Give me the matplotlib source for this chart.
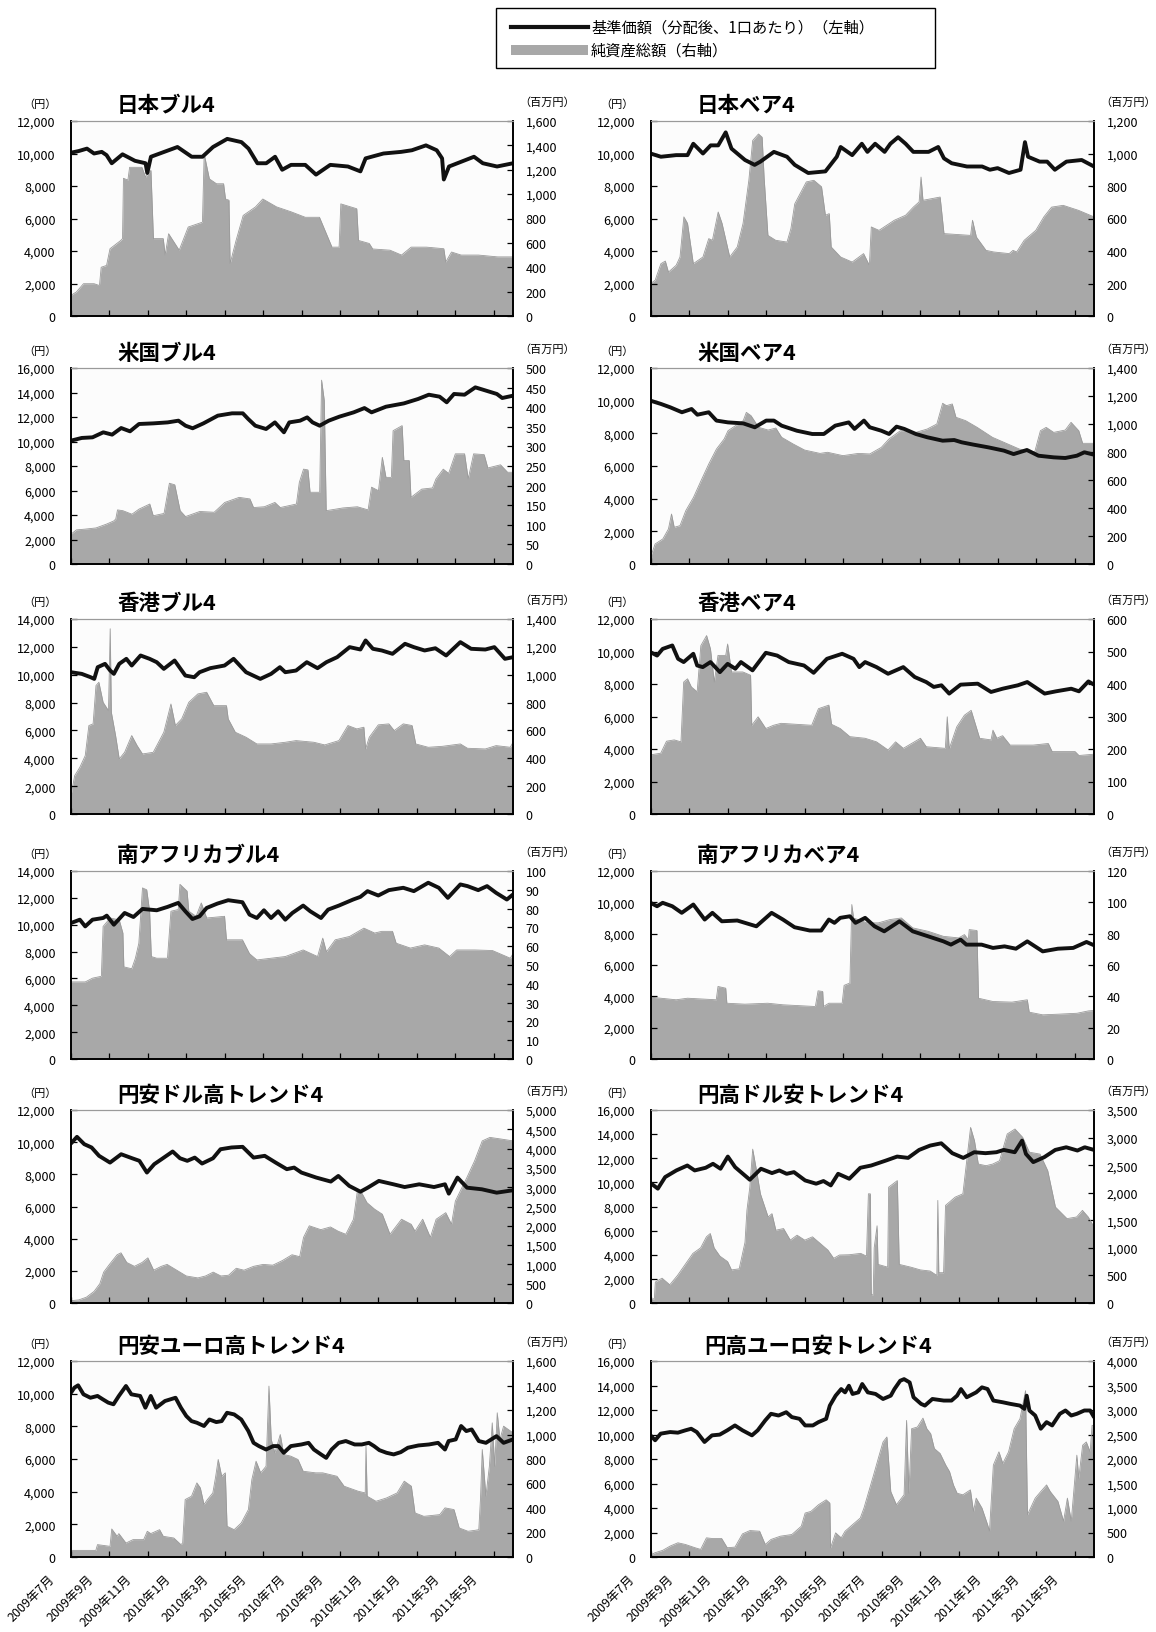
import matplotlib
matplotlib.use("Agg")
import matplotlib.pyplot as plt
from matplotlib.lines import Line2D
from matplotlib.patches import Rectangle
from matplotlib.ticker import FuncFormatter
from matplotlib.transforms import ScaledTranslation

plt.rcParams['font.family'] = ['Noto Sans CJK JP', 'DejaVu Sans']

# time axis: months since 2009-07-01
X_END = 23.0
month_ticks = [0, 2, 4, 6, 8, 10, 12, 14, 16, 18, 20, 22]
month_labels = ["2009年7月", "2009年9月", "2009年11月", "2010年1月", "2010年3月", "2010年5月",
                "2010年7月", "2010年9月", "2010年11月", "2011年1月", "2011年3月", "2011年5月"]

# ---- 日本ブル4
jpb_nav_t = [0, 0.4, 0.83, 1.2, 1.6, 1.85, 2.12, 2.68, 3.33, 3.88, 3.97, 4.16, 4.62, 5.54, 6.28, 6.84, 7.39, 8.13, 8.87, 9.24, 9.7, 10.16, 10.62, 10.99, 11.45, 12.19, 12.75, 13.49, 14.41, 15.06, 15.33, 16.26, 17.18, 17.74, 18.47, 19.03, 19.31, 19.4, 19.67, 20.32, 20.97, 21.43, 22.17, 23]
jpb_nav = [10050, 10150, 10300, 10000, 10100, 9900, 9400, 9950, 9550, 9400, 8800, 9800, 10000, 10400, 9800, 9800, 10400, 10900, 10700, 10300, 9400, 9400, 9800, 9000, 9300, 9300, 8700, 9300, 9200, 8900, 9700, 10000, 10100, 10200, 10500, 10200, 9700, 8400, 9200, 9500, 9800, 9400, 9200, 9400]
jpb_aum_t = [0, 0.28, 0.65, 1.2, 1.48, 1.57, 1.85, 2.03, 2.59, 2.68, 2.73, 2.96, 3.05, 3.69, 3.88, 4.16, 4.29, 4.8, 4.9, 5.08, 5.63, 6.1, 6.84, 6.93, 7.2, 7.57, 7.94, 8.04, 8.22, 8.28, 8.59, 8.96, 9.6, 9.98, 10.7, 11.45, 12.19, 12.93, 13.58, 13.95, 14.04, 14.87, 14.96, 15.52, 15.7, 16.6, 17.2, 17.7, 18.5, 19.4, 19.5, 19.8, 20.3, 21.2, 22.2, 23]
jpb_aum = [170, 197, 265, 265, 250, 400, 415, 552, 620, 635, 1130, 1115, 1220, 1220, 1140, 1195, 635, 635, 500, 675, 540, 730, 770, 1330, 1125, 1085, 1085, 960, 950, 430, 620, 825, 895, 960, 895, 855, 810, 810, 565, 565, 920, 880, 620, 595, 550, 540, 500, 565, 565, 552, 443, 525, 500, 500, 485, 485]

# ---- 日本ベア4
jpr_nav_t = [0, 0.54, 1.33, 1.92, 2.22, 2.72, 3.12, 3.51, 3.9, 4.2, 4.9, 5.4, 5.7, 6.4, 7.08, 7.48, 8.18, 9.07, 9.66, 9.86, 10.46, 10.96, 11.25, 11.65, 12.14, 12.44, 12.84, 13.23, 13.63, 14.42, 14.92, 15.22, 15.62, 16.41, 17.2, 17.6, 18.0, 18.59, 19.19, 19.42, 19.58, 20.18, 20.57, 20.97, 21.57, 22.36, 23]
jpr_nav = [10000, 9800, 9900, 9900, 10600, 10000, 10500, 10500, 11300, 10300, 9600, 9300, 9500, 10100, 9800, 9300, 8800, 8900, 9800, 10400, 9900, 10600, 10100, 10600, 10100, 10600, 11000, 10600, 10100, 10100, 10400, 9700, 9400, 9200, 9200, 9000, 9100, 8800, 9000, 10700, 9800, 9500, 9500, 9000, 9500, 9600, 9200]
jpr_aum_t = [0, 0.24, 0.54, 0.77, 0.93, 1.33, 1.53, 1.73, 1.92, 2.22, 2.72, 3.02, 3.21, 3.51, 3.71, 4.11, 4.5, 4.8, 5.1, 5.3, 5.6, 5.79, 5.89, 6.09, 6.49, 7.08, 7.28, 7.48, 8.08, 8.47, 8.87, 9.07, 9.27, 9.37, 9.86, 10.46, 11.05, 11.35, 11.45, 11.85, 12.64, 13.23, 13.63, 13.93, 14.03, 14.13, 15.02, 15.22, 16.6, 16.7, 16.9, 17.4, 17.8, 18.6, 18.8, 18.99, 19.38, 19.98, 20.4, 20.8, 21.4, 22.2, 23]
jpr_aum = [199, 220, 322, 338, 270, 312, 363, 610, 570, 322, 363, 476, 466, 640, 570, 363, 425, 570, 835, 1080, 1120, 1100, 855, 496, 466, 455, 537, 690, 825, 835, 795, 620, 630, 425, 363, 332, 384, 312, 548, 527, 589, 620, 670, 702, 855, 712, 732, 507, 496, 589, 486, 404, 394, 384, 404, 394, 466, 527, 610, 670, 681, 650, 610]

# ---- 米国ブル4
usb_nav_t = [0, 0.56, 1.12, 1.68, 2.14, 2.61, 3.07, 3.54, 4.28, 5.03, 5.59, 5.96, 6.33, 6.89, 7.64, 8.38, 8.94, 9.22, 9.59, 10.15, 10.61, 11.08, 11.36, 11.92, 12.29, 12.57, 12.94, 13.41, 13.97, 14.71, 15.27, 15.64, 16.39, 17.32, 18.06, 18.62, 19.18, 19.55, 19.93, 20.48, 21.04, 21.6, 22.16, 22.44, 23]
usb_nav = [10070, 10290, 10340, 10750, 10560, 11100, 10830, 11430, 11480, 11560, 11700, 11290, 11080, 11480, 12110, 12300, 12300, 11840, 11290, 11020, 11560, 10750, 11560, 11700, 11970, 11560, 11290, 11700, 12030, 12380, 12730, 12380, 12840, 13110, 13470, 13820, 13660, 13200, 13880, 13820, 14420, 14150, 13880, 13550, 13740]
usb_aum_t = [0, 0.28, 0.74, 1.3, 1.86, 2.23, 2.33, 2.42, 2.7, 3.17, 3.54, 4.1, 4.28, 4.84, 5.12, 5.4, 5.68, 5.96, 6.7, 7.45, 8.0, 8.75, 9.31, 9.5, 10.06, 10.61, 10.89, 11.73, 11.88, 12.1, 12.33, 12.44, 12.94, 13.04, 13.18, 13.28, 14.15, 14.9, 15.46, 15.64, 16.0, 16.2, 16.39, 16.67, 16.76, 17.23, 17.32, 17.6, 17.69, 18.25, 18.81, 18.99, 19.37, 19.65, 20.0, 20.48, 20.67, 20.95, 21.5, 21.69, 22.35, 22.72, 23]
usb_aum = [76, 87, 89, 92, 102, 110, 115, 138, 136, 127, 140, 153, 123, 129, 206, 202, 136, 121, 134, 132, 157, 170, 166, 144, 146, 157, 144, 153, 208, 242, 240, 183, 183, 469, 417, 136, 143, 146, 138, 196, 187, 272, 221, 221, 340, 353, 264, 264, 170, 191, 194, 217, 242, 231, 281, 281, 217, 281, 279, 245, 253, 234, 234]

# ---- 米国ベア4
usr_nav_t = [0, 0.54, 1.03, 1.63, 2.13, 2.43, 3.02, 3.42, 4.02, 4.81, 5.41, 6.0, 6.4, 6.8, 7.59, 8.39, 8.99, 9.58, 10.28, 10.58, 11.07, 11.37, 11.97, 12.37, 12.76, 13.16, 13.76, 14.35, 15.15, 15.75, 16.14, 16.74, 17.53, 18.33, 18.83, 19.52, 20.12, 20.91, 21.51, 22.11, 22.5, 23]
usr_nav = [10000, 9800, 9590, 9290, 9490, 9140, 9290, 8780, 8670, 8610, 8370, 8780, 8780, 8470, 8160, 7960, 7960, 8470, 8670, 8270, 8780, 8370, 8160, 7960, 8410, 8270, 7960, 7760, 7550, 7590, 7450, 7310, 7140, 6940, 6730, 6980, 6630, 6530, 6490, 6630, 6840, 6690]
usr_aum_t = [0, 0.24, 0.64, 0.93, 1.09, 1.23, 1.53, 1.83, 2.23, 2.62, 3.02, 3.42, 3.82, 4.02, 4.41, 4.81, 4.97, 5.21, 5.61, 6.1, 6.5, 6.8, 7.4, 7.99, 8.79, 9.18, 9.98, 10.78, 11.37, 11.97, 12.37, 12.96, 13.76, 14.35, 14.85, 15.15, 15.35, 15.65, 15.84, 16.34, 16.94, 17.73, 18.53, 19.13, 19.92, 20.22, 20.52, 20.91, 21.51, 21.81, 22.21, 22.41, 23]
usr_aum = [48, 143, 179, 250, 357, 262, 274, 381, 476, 595, 714, 821, 893, 952, 988, 1024, 1083, 1060, 976, 957, 971, 905, 857, 814, 790, 798, 774, 790, 786, 833, 893, 952, 940, 964, 1000, 1148, 1131, 1143, 1048, 1024, 976, 905, 857, 821, 798, 952, 976, 940, 957, 1012, 952, 862, 862]

# ---- 香港ブル4
hkb_nav_t = [0, 0.56, 1.02, 1.21, 1.39, 1.77, 2.04, 2.23, 2.51, 2.88, 3.16, 3.62, 4.09, 4.46, 4.83, 5.39, 5.95, 6.41, 6.69, 7.25, 7.99, 8.46, 9.11, 9.85, 10.41, 10.87, 11.15, 11.71, 12.27, 12.83, 13.29, 13.85, 14.5, 15.06, 15.33, 15.71, 16.17, 16.73, 17.38, 17.84, 18.4, 18.96, 19.52, 20.26, 20.82, 21.56, 22.03, 22.58, 23]
hkb_nav = [10180, 10060, 9820, 9700, 10540, 10780, 10300, 10060, 10780, 11140, 10660, 11380, 11140, 10900, 10420, 11020, 9940, 9820, 10180, 10470, 10660, 11140, 10180, 9700, 10060, 10540, 10180, 10300, 10900, 10470, 10900, 11260, 11980, 11810, 12460, 11860, 11740, 11500, 12220, 11980, 11740, 11900, 11380, 12340, 11860, 11810, 11980, 11140, 11260]
hkb_aum_t = [0, 0.19, 0.46, 0.74, 0.93, 1.15, 1.3, 1.45, 1.67, 1.95, 2.04, 2.1, 2.32, 2.51, 2.79, 3.16, 3.44, 3.72, 4.28, 4.83, 5.2, 5.43, 5.76, 6.13, 6.6, 7.06, 7.43, 8.09, 8.18, 8.55, 9.11, 9.67, 10.41, 11.15, 11.71, 12.64, 13.2, 13.94, 14.41, 14.87, 15.24, 15.33, 15.52, 15.99, 16.54, 16.82, 17.29, 17.75, 17.94, 18.59, 19.33, 20.26, 20.63, 21.56, 22.12, 22.86, 23]
hkb_aum = [132, 275, 335, 419, 635, 647, 922, 946, 802, 742, 1330, 730, 563, 395, 443, 563, 491, 431, 443, 587, 790, 635, 683, 802, 862, 874, 778, 778, 683, 587, 551, 503, 503, 515, 527, 515, 496, 527, 635, 611, 623, 467, 551, 640, 647, 599, 647, 635, 503, 479, 486, 503, 472, 467, 491, 479, 515]

# ---- 香港ベア4
hkr_nav_t = [0, 0.34, 0.63, 1.13, 1.43, 1.72, 2.22, 2.42, 2.71, 3.11, 3.6, 4.0, 4.4, 4.69, 5.29, 5.98, 6.57, 7.17, 7.96, 8.46, 9.15, 9.94, 10.53, 10.83, 11.13, 11.72, 12.32, 13.11, 13.7, 14.3, 14.69, 15.09, 15.49, 16.08, 16.97, 17.66, 18.26, 19.05, 19.54, 20.44, 21.03, 21.82, 22.22, 22.71, 23]
hkr_nav = [9960, 9750, 10160, 10370, 9550, 9350, 9860, 9140, 9040, 9350, 8730, 9240, 8940, 9350, 8840, 9920, 9750, 9350, 9140, 8690, 9550, 9860, 9550, 9040, 9350, 9040, 8630, 9040, 8430, 8120, 7820, 7920, 7410, 7960, 8020, 7510, 7710, 7920, 8120, 7410, 7550, 7710, 7550, 8160, 7960]
hkr_aum_t = [0, 0.53, 0.83, 1.23, 1.58, 1.72, 1.92, 2.12, 2.42, 2.61, 2.91, 3.11, 3.31, 3.5, 3.9, 4.0, 4.2, 4.79, 5.19, 5.25, 5.58, 5.98, 6.38, 6.77, 7.56, 8.36, 8.71, 9.25, 9.39, 9.84, 10.34, 11.13, 11.72, 12.32, 12.71, 13.11, 14.0, 14.3, 15.29, 15.39, 15.49, 15.88, 16.28, 16.63, 17.07, 17.66, 17.76, 17.96, 18.26, 18.65, 19.84, 20.63, 20.83, 22.02, 22.22, 23]
hkr_aum = [182, 187, 224, 228, 222, 406, 416, 391, 376, 518, 549, 508, 406, 488, 488, 523, 437, 437, 427, 273, 299, 263, 273, 279, 276, 273, 324, 335, 276, 263, 238, 233, 222, 197, 222, 202, 233, 207, 202, 299, 200, 268, 304, 319, 233, 228, 258, 233, 241, 212, 212, 217, 192, 192, 180, 184]

# ---- 南アフリカブル4
zab_nav_t = [0, 0.46, 0.74, 1.12, 1.67, 1.86, 2.23, 2.79, 3.25, 3.72, 4.46, 5.02, 5.58, 5.95, 6.32, 6.69, 7.06, 7.62, 8.18, 8.92, 9.29, 9.67, 10.04, 10.41, 10.78, 11.15, 11.52, 12.08, 12.45, 13.01, 13.38, 13.94, 14.68, 15.06, 15.43, 15.99, 16.54, 17.29, 17.84, 18.59, 19.14, 19.61, 20.26, 20.63, 21.19, 21.65, 22.12, 22.68, 23]
zab_nav = [10125, 10375, 9875, 10375, 10500, 10675, 10000, 10875, 10575, 11175, 11075, 11325, 11625, 11000, 10425, 10625, 11250, 11575, 11825, 11675, 10750, 10500, 11075, 10500, 11000, 10375, 10875, 11425, 11000, 10500, 11125, 11425, 11875, 12075, 12500, 12175, 12575, 12750, 12500, 13125, 12750, 12000, 13000, 12875, 12575, 12875, 12375, 11875, 12250]
zab_aum_t = [0, 0.74, 1.12, 1.58, 1.67, 2.04, 2.51, 2.7, 2.75, 3.16, 3.35, 3.53, 3.72, 3.94, 4.09, 4.18, 4.46, 5.02, 5.2, 5.58, 5.67, 6.04, 6.13, 6.51, 6.78, 7.06, 7.99, 8.09, 8.92, 9.29, 9.67, 10.41, 11.15, 12.08, 12.83, 13.1, 13.29, 13.75, 14.5, 15.24, 15.8, 16.17, 16.73, 16.92, 17.66, 18.4, 19.14, 19.7, 20.07, 21.0, 21.93, 22.86, 23]
zab_aum = [41, 41, 43, 44, 70.5, 75, 74, 67, 49, 48, 53.6, 61.6, 91, 90, 78.6, 54.5, 53.6, 53.6, 78.6, 79.5, 92.9, 89.3, 78.6, 75.9, 83, 75, 75.9, 63.4, 63.4, 56, 52.7, 53.6, 54.5, 58, 54.5, 64.3, 57, 63.4, 65.2, 69.6, 67, 67.9, 67.9, 61.6, 59, 60.7, 59, 54.5, 58, 58, 57.7, 53.6, 56]

# ---- 南アフリカベア4
zar_nav_t = [0, 0.34, 0.63, 1.13, 1.62, 2.22, 2.81, 3.21, 3.7, 4.5, 5.49, 6.28, 6.87, 7.47, 8.26, 8.85, 9.25, 9.54, 9.84, 10.34, 10.63, 11.13, 11.62, 12.12, 12.91, 13.6, 14.4, 15.19, 15.58, 16.08, 16.38, 17.17, 17.76, 18.36, 18.95, 19.54, 20.34, 21.13, 21.92, 22.61, 23]
zar_nav = [9970, 9750, 9970, 9750, 9330, 9860, 8900, 9330, 8790, 8840, 8470, 9330, 8900, 8410, 8200, 8200, 8900, 8690, 9010, 9110, 8690, 9010, 8470, 8150, 8790, 8150, 7830, 7510, 7300, 7620, 7300, 7300, 7090, 7190, 7040, 7510, 6870, 7040, 7090, 7470, 7260]
zar_aum_t = [0, 0.53, 1.33, 1.92, 3.41, 3.5, 3.9, 3.96, 4.89, 6.08, 6.87, 8.55, 8.69, 8.93, 8.97, 9.25, 9.94, 10.04, 10.34, 10.44, 10.53, 11.23, 11.82, 12.42, 13.01, 13.6, 14.4, 15.19, 15.98, 16.28, 16.48, 16.53, 16.93, 17.01, 17.76, 18.75, 19.54, 19.64, 20.34, 21.13, 22.12, 22.71, 23]
zar_aum = [39.5, 38.8, 37.8, 38.8, 37.8, 46.3, 45.2, 35.6, 35, 35.6, 34.6, 33.5, 43.5, 43.1, 33.5, 35.6, 35.6, 47, 48.5, 98.6, 90, 86.9, 86.9, 89, 90, 83.7, 81.5, 78.3, 77.3, 79.4, 76.2, 82.6, 82, 38.8, 36.7, 36.3, 37.8, 29.9, 28.2, 28.6, 29.2, 30.7, 31]

# ---- 円安ドル高トレンド4
usdu_nav_t = [0, 0.31, 0.69, 1.07, 1.46, 2.03, 2.61, 3.18, 3.56, 3.95, 4.33, 4.71, 5.29, 5.67, 6.05, 6.44, 6.82, 7.39, 7.78, 8.35, 8.93, 9.5, 10.08, 10.65, 11.23, 11.61, 11.99, 12.76, 13.52, 13.91, 14.48, 15.06, 15.44, 16.02, 16.78, 17.36, 18.12, 18.89, 19.46, 19.66, 20.11, 20.61, 21.38, 22.15, 23]
usdu_nav = [9920, 10330, 9875, 9670, 9150, 8730, 9250, 9000, 8840, 8110, 8630, 8940, 9420, 9000, 8840, 9040, 8670, 9000, 9560, 9670, 9710, 9040, 9150, 8730, 8320, 8420, 8110, 7800, 7550, 7900, 7280, 6920, 7170, 7590, 7380, 7210, 7380, 7210, 7380, 6800, 7800, 7170, 7070, 6860, 7010]
usdu_aum_t = [0, 0.4, 0.8, 1.2, 1.5, 1.7, 2.0, 2.4, 2.6, 2.9, 3.3, 3.7, 4.0, 4.3, 4.7, 5.0, 5.5, 6.0, 6.6, 7.0, 7.4, 7.8, 8.2, 8.6, 9.0, 9.5, 10.0, 10.5, 11.0, 11.5, 11.9, 12.1, 12.4, 13.0, 13.5, 13.9, 14.3, 14.7, 14.9, 15.1, 15.4, 15.8, 16.2, 16.6, 17.2, 17.7, 17.9, 18.3, 18.7, 19.0, 19.5, 19.8, 20.0, 20.6, 21.0, 21.4, 21.8, 22.35, 23]
usdu_aum = [60, 80, 150, 300, 500, 800, 1000, 1250, 1300, 1050, 950, 1050, 1170, 850, 950, 1000, 850, 700, 650, 700, 800, 700, 720, 900, 850, 950, 1000, 980, 1100, 1250, 1200, 1700, 2000, 1900, 1970, 1860, 1780, 2170, 2900, 2880, 2600, 2430, 2300, 1780, 2170, 2040, 1860, 2170, 1700, 2170, 2340, 2040, 2640, 3250, 3680, 4200, 4290, 4250, 4200]

# ---- 円高ドル安トレンド4
usdd_nav_t = [0, 0.38, 0.76, 1.34, 1.91, 2.29, 2.86, 3.24, 3.63, 4.01, 4.39, 5.15, 5.73, 6.3, 6.68, 7.06, 7.44, 8.02, 8.59, 8.97, 9.35, 9.73, 10.31, 10.88, 11.45, 12.21, 12.79, 13.36, 13.93, 14.5, 15.08, 15.65, 16.22, 16.79, 17.37, 17.94, 18.32, 18.89, 19.27, 19.47, 19.85, 20.42, 20.99, 21.56, 22.14, 22.52, 23]
usdd_nav = [9945, 9480, 10440, 10990, 11400, 10990, 11210, 11540, 11130, 12140, 11260, 10220, 11130, 10770, 10990, 10710, 10850, 10160, 9890, 10110, 9750, 10710, 10300, 11210, 11400, 11810, 12140, 12030, 12690, 13050, 13240, 12420, 12030, 12500, 12420, 12500, 12690, 12500, 13460, 12360, 11680, 12090, 12690, 12910, 12640, 12910, 12690]
usdd_aum_t = [0, 0.2, 0.25, 0.6, 1.0, 1.4, 1.7, 2.2, 2.6, 2.9, 3.1, 3.3, 3.6, 4.0, 4.2, 4.6, 4.9, 5.0, 5.15, 5.3, 5.5, 5.7, 6.1, 6.3, 6.5, 6.9, 7.25, 7.6, 8.0, 8.4, 8.8, 9.2, 9.5, 9.8, 10.3, 10.9, 11.2, 11.3, 11.4, 11.45, 11.55, 11.6, 11.75, 11.8, 12.3, 12.35, 12.8, 12.9, 13.5, 14.0, 14.5, 14.85, 14.9, 14.95, 15.2, 15.3, 15.8, 16.2, 16.6, 16.8, 17.0, 17.4, 17.75, 18.1, 18.5, 18.9, 19.3, 19.65, 20.2, 20.6, 21.0, 21.6, 22.1, 22.4, 22.7, 23]
usdd_aum = [60, 80, 380, 450, 330, 500, 650, 900, 1000, 1200, 1260, 1000, 850, 750, 600, 620, 1100, 1680, 2100, 2790, 2400, 1980, 1560, 1620, 1320, 1350, 1140, 1230, 1140, 1200, 1080, 960, 810, 870, 875, 900, 850, 1980, 1980, 150, 150, 1000, 1400, 700, 650, 2100, 2220, 700, 650, 600, 580, 500, 1860, 550, 550, 1770, 1920, 1980, 3185, 2945, 2520, 2490, 2520, 2580, 3065, 3155, 3005, 2735, 2700, 2400, 1740, 1530, 1560, 1680, 1560, 1380]

# ---- 円安ユーロ高トレンド4
euru_nav_t = [0, 0.18, 0.37, 0.65, 1.01, 1.38, 1.66, 1.94, 2.21, 2.49, 2.86, 3.14, 3.6, 3.87, 4.15, 4.43, 4.89, 5.44, 5.72, 6.0, 6.27, 6.55, 6.92, 7.2, 7.56, 7.84, 8.12, 8.49, 8.86, 9.23, 9.5, 9.78, 10.15, 10.52, 10.79, 11.07, 11.44, 11.99, 12.36, 12.64, 13.01, 13.28, 13.56, 13.93, 14.3, 14.76, 15.13, 15.5, 15.77, 16.05, 16.42, 16.79, 17.16, 17.53, 18.08, 18.63, 19.1, 19.46, 19.65, 20.02, 20.3, 20.57, 20.85, 21.22, 21.59, 22.14, 22.51, 23]
euru_nav = [10060, 10370, 10510, 9960, 9750, 9860, 9650, 9450, 9350, 9860, 10470, 9960, 9860, 9140, 9860, 9140, 9550, 9750, 9140, 8630, 8320, 8220, 8020, 8420, 8260, 8320, 8830, 8730, 8420, 7710, 6990, 6790, 6580, 6790, 6790, 6380, 6790, 6890, 6990, 6580, 6280, 6070, 6580, 6990, 7100, 6890, 6890, 6990, 6790, 6540, 6380, 6280, 6420, 6690, 6830, 6890, 6990, 6580, 7100, 7200, 8020, 7710, 7810, 7100, 6990, 7400, 6990, 7200]
euru_aum_t = [0, 1.29, 1.38, 2.03, 2.12, 2.4, 2.49, 2.86, 3.23, 3.78, 3.97, 4.15, 4.61, 4.8, 5.35, 5.72, 5.81, 5.94, 6.27, 6.55, 6.73, 6.92, 7.1, 7.38, 7.53, 7.66, 7.84, 8.03, 8.12, 8.49, 8.86, 9.23, 9.41, 9.63, 9.87, 10.15, 10.3, 10.42, 10.61, 10.89, 11.07, 11.44, 11.81, 12.08, 12.73, 13.1, 13.84, 14.21, 14.94, 15.31, 15.35, 15.41, 15.87, 16.42, 16.97, 17.34, 17.71, 17.9, 18.36, 19.19, 19.46, 19.93, 20.2, 20.66, 21.03, 21.22, 21.31, 21.4, 21.59, 21.77, 21.92, 22.05, 22.18, 22.32, 22.51, 23]
euru_aum = [54, 54, 101, 87, 229, 169, 191, 114, 142, 142, 210, 191, 223, 169, 155, 101, 114, 469, 496, 605, 564, 428, 469, 523, 659, 796, 659, 687, 251, 223, 278, 387, 632, 782, 687, 741, 1395, 959, 850, 1000, 837, 823, 796, 700, 687, 687, 659, 578, 537, 523, 905, 496, 455, 482, 523, 619, 578, 360, 332, 346, 401, 387, 237, 210, 218, 223, 482, 877, 496, 741, 1095, 741, 1177, 959, 1068, 1014]

# ---- 円高ユーロ安トレンド4
eurd_nav_t = [0, 0.24, 0.53, 1.02, 1.42, 1.81, 2.11, 2.4, 2.8, 3.19, 3.59, 3.98, 4.38, 4.77, 5.26, 5.56, 5.95, 6.25, 6.64, 7.04, 7.33, 7.73, 8.02, 8.42, 8.71, 9.11, 9.3, 9.6, 9.89, 10.09, 10.29, 10.48, 10.78, 10.98, 11.27, 11.67, 12.06, 12.46, 12.65, 12.95, 13.15, 13.44, 13.64, 14.03, 14.23, 14.62, 15.21, 15.61, 15.9, 16.1, 16.4, 16.89, 17.19, 17.48, 17.78, 18.27, 18.66, 19.16, 19.39, 19.51, 19.65, 19.95, 20.24, 20.54, 20.83, 21.23, 21.52, 21.82, 22.11, 22.5, 22.8, 23]
eurd_nav = [9930, 9530, 10070, 10200, 10150, 10340, 10470, 10200, 9390, 9930, 9990, 10340, 10740, 10340, 9930, 10340, 11150, 11690, 11550, 11820, 11420, 11280, 10740, 10740, 11010, 11280, 12360, 13170, 13710, 13440, 13980, 13310, 13440, 14120, 13440, 13310, 12900, 13170, 13710, 14390, 14520, 14250, 13040, 12500, 12360, 12900, 12770, 12770, 13170, 13710, 13040, 13440, 13850, 13710, 12770, 12630, 12500, 12360, 12090, 13170, 11960, 11550, 10470, 11010, 10740, 11690, 11960, 11550, 11690, 11960, 11960, 11420]
eurd_aum_t = [0, 0.24, 0.63, 1.02, 1.42, 1.81, 2.31, 2.6, 2.9, 3.19, 3.69, 3.98, 4.38, 4.77, 5.16, 5.66, 5.95, 6.25, 6.74, 7.33, 7.82, 8.02, 8.32, 8.71, 9.11, 9.3, 9.34, 9.6, 9.89, 10.09, 10.48, 10.88, 11.07, 11.27, 11.57, 11.86, 12.06, 12.26, 12.46, 12.75, 13.15, 13.28, 13.4, 13.54, 13.84, 14.13, 14.33, 14.53, 14.72, 15.02, 15.31, 15.51, 15.71, 15.9, 16.2, 16.59, 16.75, 16.89, 17.19, 17.48, 17.58, 17.78, 18.07, 18.27, 18.57, 18.86, 19.16, 19.45, 19.55, 19.95, 20.24, 20.54, 20.73, 21.13, 21.42, 21.62, 21.82, 22.11, 22.21, 22.41, 22.6, 22.8, 22.9, 23]
eurd_aum = [40, 88, 135, 223, 290, 256, 189, 155, 391, 378, 378, 189, 202, 472, 540, 526, 256, 358, 425, 459, 628, 897, 931, 1066, 1167, 1100, 189, 493, 391, 526, 661, 796, 999, 1269, 1674, 2078, 2348, 2449, 1336, 1066, 1269, 2787, 1302, 2618, 2652, 2834, 2618, 2517, 2213, 2112, 1876, 1741, 1471, 1302, 1269, 1370, 931, 1201, 999, 661, 526, 1876, 2146, 1910, 2146, 2618, 2820, 3394, 864, 1201, 1336, 1471, 1336, 1134, 729, 1201, 729, 2078, 1606, 2281, 2348, 2146, 2686, 2686]

titles = ["日本ブル4", "日本ベア4", "米国ブル4", "米国ベア4", "香港ブル4", "香港ベア4",
          "南アフリカブル4", "南アフリカベア4", "円安ドル高トレンド4", "円高ドル安トレンド4",
          "円安ユーロ高トレンド4", "円高ユーロ安トレンド4"]
left_max = [12000, 12000, 16000, 12000, 14000, 12000, 14000, 12000, 12000, 16000, 12000, 16000]
right_max = [1600, 1200, 500, 1400, 1400, 600, 100, 120, 5000, 3500, 1600, 4000]
right_step = [200, 200, 50, 200, 200, 100, 10, 20, 500, 500, 200, 500]
series = [(jpb_nav_t, jpb_nav, jpb_aum_t, jpb_aum), (jpr_nav_t, jpr_nav, jpr_aum_t, jpr_aum),
          (usb_nav_t, usb_nav, usb_aum_t, usb_aum), (usr_nav_t, usr_nav, usr_aum_t, usr_aum),
          (hkb_nav_t, hkb_nav, hkb_aum_t, hkb_aum), (hkr_nav_t, hkr_nav, hkr_aum_t, hkr_aum),
          (zab_nav_t, zab_nav, zab_aum_t, zab_aum), (zar_nav_t, zar_nav, zar_aum_t, zar_aum),
          (usdu_nav_t, usdu_nav, usdu_aum_t, usdu_aum), (usdd_nav_t, usdd_nav, usdd_aum_t, usdd_aum),
          (euru_nav_t, euru_nav, euru_aum_t, euru_aum), (eurd_nav_t, eurd_nav, eurd_aum_t, eurd_aum)]

W, H = 1156, 1633
AREA = '#a8a8a8'
fig = plt.figure(figsize=(W / 100, H / 100), dpi=100)

col_l = [71, 650.5]
col_r = [513, 1094]
row_top = [122, 369, 620, 872, 1111, 1362]
row_bot = [317, 565, 815, 1060, 1304, 1558]
title_x = [117, 697]
yen_x = [40, 617]

comma = FuncFormatter(lambda v, p: f"{int(round(v)):,}")


def fx(px):
    return px / W


def fy(py):
    return 1 - py / H


for i in range(12):
    r, c = divmod(i, 2)
    nav_t, nav, aum_t, aum = series[i]
    top, bot = row_top[r], row_bot[r]
    ax = fig.add_axes([fx(col_l[c]), fy(bot), (col_r[c] - col_l[c]) / W, (bot - top) / H])
    ax2 = ax.twinx()

    ax2.fill_between(aum_t, aum, 0, color=AREA, linewidth=0)
    ax2.plot(aum_t, aum, color='#9a9a9a', lw=0.6)
    ax.plot(nav_t, nav, color='#111111', lw=2.8, solid_joinstyle='round', solid_capstyle='round')

    ax.set_xlim(0, X_END)
    ax.set_ylim(0, left_max[i])
    ax2.set_ylim(0, right_max[i])
    ax.set_yticks(range(0, left_max[i] + 1, 2000))
    ax2.set_yticks(range(0, right_max[i] + 1, right_step[i]))
    ax.yaxis.set_major_formatter(comma)
    ax2.yaxis.set_major_formatter(comma)

    ax.set_zorder(ax2.get_zorder() + 1)
    ax.patch.set_visible(False)
    ax2.patch.set_visible(True)
    ax2.patch.set_facecolor('#fcfcfc')

    for a in (ax, ax2):
        for s in ('left', 'right', 'bottom'):
            a.spines[s].set_color('black')
            a.spines[s].set_linewidth(1.2)
        a.spines['top'].set_color('#9a9a9a')
        a.spines['top'].set_linewidth(0.8)

    ax.tick_params(axis='y', direction='in', length=4, width=0.9, pad=11, labelsize=9)
    ax2.tick_params(axis='y', direction='in', length=4, width=0.9, pad=9, labelsize=9)
    ax.set_xticks(month_ticks)
    ax.tick_params(axis='x', direction='in', length=4, width=0.9, top=False)
    if r == 5:
        ax.set_xticklabels(month_labels, rotation=45, ha='right', va='center',
                           rotation_mode='anchor', fontsize=9)
        ax.tick_params(axis='x', pad=14)
        for lab in ax.get_xticklabels():
            lab.set_transform(lab.get_transform() + ScaledTranslation(-0.18, 0, fig.dpi_scale_trans))
    else:
        ax.set_xticklabels([])

    tx = title_x[c] + (7 if i == 11 else 0)
    fig.text(fx(tx), fy(top - 16), titles[i], fontsize=15.5, fontweight='bold', ha='left', va='center')
    fig.text(fx(yen_x[c]), fy(top - 17), "（円）", fontsize=8, ha='center', va='center')
    fig.text(fx(col_r[c] + 6), fy(top - 19), "（百万円）", fontsize=8, ha='left', va='center')

# legend box
fig.add_artist(Rectangle((fx(496), fy(69)), (935 - 496) / W, 60 / H, transform=fig.transFigure,
                         fill=False, ec='black', lw=1.0))
fig.add_artist(Line2D([fx(511), fx(588)], [fy(28), fy(28)], transform=fig.transFigure,
                      color='#111111', lw=3))
fig.add_artist(Rectangle((fx(511), fy(56)), 77 / W, 10 / H, transform=fig.transFigure,
                         fc=AREA, ec='none'))
fig.text(fx(591), fy(28), "基準価額（分配後、1口あたり）（左軸）", fontsize=11, va='center')
fig.text(fx(591), fy(51), "純資産総額（右軸）", fontsize=11, va='center')

fig.savefig("out.png", dpi=100)
